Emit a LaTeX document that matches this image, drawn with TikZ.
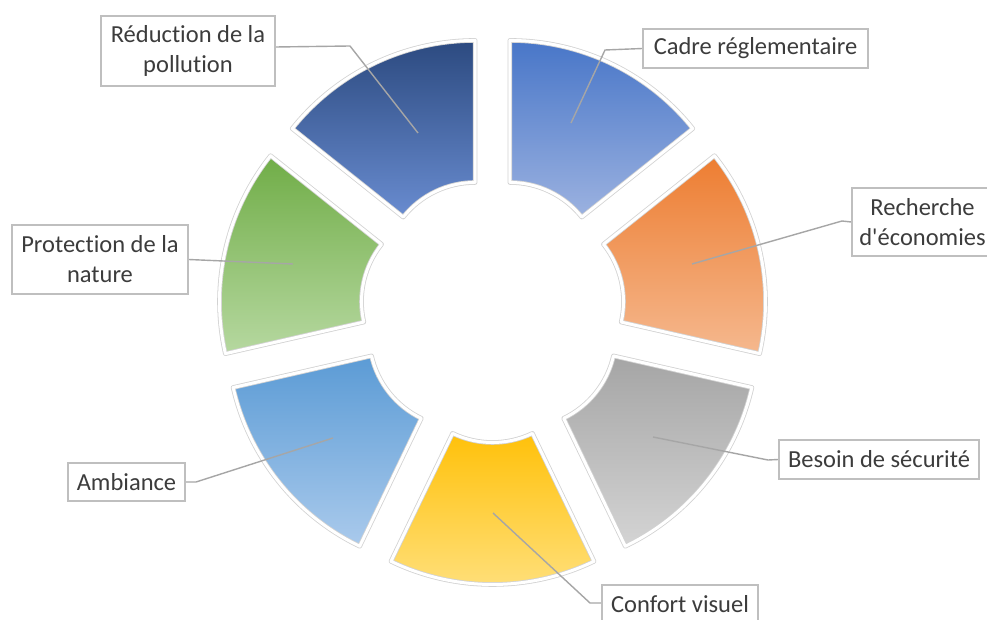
\documentclass[tikz,border=0pt]{standalone}
\usepackage{fontspec}
\setmainfont{Carlito}[Ligatures={TeXOff,NoCommon}]
\usetikzlibrary{calc}
\definecolor{cadT}{RGB}{72,118,200}\definecolor{cadB}{RGB}{156,178,224}
\definecolor{recT}{RGB}{237,125,49}\definecolor{recB}{RGB}{245,184,142}
\definecolor{besT}{RGB}{165,165,165}\definecolor{besB}{RGB}{212,212,212}
\definecolor{conT}{RGB}{255,193,10}\definecolor{conB}{RGB}{255,224,125}
\definecolor{ambT}{RGB}{91,155,213}\definecolor{ambB}{RGB}{170,202,236}
\definecolor{proT}{RGB}{112,173,71}\definecolor{proB}{RGB}{182,216,160}
\definecolor{redT}{RGB}{44,74,128}\definecolor{redB}{RGB}{105,140,208}
\definecolor{txt}{RGB}{60,60,60}
\definecolor{boxgray}{RGB}{191,191,191}
\definecolor{leadgray}{RGB}{166,166,166}
\definecolor{rimgray}{RGB}{210,210,210}
\newcommand\donutseg[3]{%
  \pgfmathsetmacro\aA{90-#1*360/7}%
  \pgfmathsetmacro\aB{\aA-360/7}%
  \pgfmathsetmacro\aM{\aA-180/7}%
  \coordinate (lc#1) at ($(C)+(\aM:40)$);
  \path[top color=#2,bottom color=#3,
        postaction={draw=rimgray,line width=4.6pt,line join=round},
        postaction={draw=white,line width=3pt,line join=round}]
    ($(lc#1)+(\aA:234)$) arc[start angle=\aA,end angle=\aB,radius=234]
    -- ($(lc#1)+(\aB:92)$) arc[start angle=\aB,end angle=\aA,radius=92] -- cycle;
}
\begin{document}
\begin{tikzpicture}[x=1pt,y=1pt,
  lbl/.style={draw=boxgray,line width=1.3pt,fill=white,text=txt,inner sep=0pt,
    align=center,font=\fontsize{24.5}{30}\selectfont},
  leader/.style={draw=leadgray,line width=1.4pt,line join=round}]
\useasboundingbox[fill=white] (0,0) rectangle (987,619);
\coordinate (C) at (492.5,308.5);
\donutseg{0}{cadT}{cadB}
\donutseg{1}{recT}{recB}
\donutseg{2}{besT}{besB}
\donutseg{3}{conT}{conB}
\donutseg{4}{ambT}{ambB}
\donutseg{5}{proT}{proB}
\donutseg{6}{redT}{redB}
% leader end points inside segments
\coordinate (pCad) at (571,496);
\coordinate (pRec) at (692,355);
\coordinate (pBes) at (653,182);
\coordinate (pCon) at (493,106);
\coordinate (pAmb) at (333,181);
\coordinate (pPro) at (293,355);
\coordinate (pRed) at (418,486);
% labels
\node[lbl,minimum width=174pt,minimum height=70pt] (lRed) at (188,568) {Réduction de la\\pollution};
\node[lbl,minimum width=225pt,minimum height=39pt] (lCad) at (755.5,570.5) {Cadre réglementaire};
\node[lbl,minimum width=141pt,minimum height=68pt] (lRec) at (922.5,397) {Recherche\\d'économies};
\node[lbl,minimum width=200pt,minimum height=39pt] (lBes) at (879,159.5) {Besoin de sécurité};
\node[lbl,minimum width=156pt,minimum height=39pt] (lCon) at (680,14.5) {Confort visuel};
\node[lbl,minimum width=117pt,minimum height=38pt] (lAmb) at (126.5,137) {Ambiance};
\node[lbl,minimum width=176pt,minimum height=69pt] (lPro) at (100,359.5) {Protection de la\\nature};
% leaders
\draw[leader] ([yshift=4pt]lRed.east) -- (350,573) -- (pRed);
\draw[leader] (lCad.west) -- (605,569) -- (pCad);
\draw[leader] (lRec.west) -- (842,398) -- (pRec);
\draw[leader] (lBes.west) -- (768,159) -- (pBes);
\draw[leader] ([yshift=1.5pt]lCon.west) -- (590,16) -- (pCon);
\draw[leader] (lAmb.east) -- (196,137) -- (pAmb);
\draw[leader] (lPro.east) -- (pPro);
% redraw labels above leaders
\node[lbl,minimum width=174pt,minimum height=70pt] at (lRed) {Réduction de la\\pollution};
\node[lbl,minimum width=225pt,minimum height=39pt] at (lCad) {Cadre réglementaire};
\node[lbl,minimum width=141pt,minimum height=68pt] at (lRec) {Recherche\\d'économies};
\node[lbl,minimum width=200pt,minimum height=39pt] at (lBes) {Besoin de sécurité};
\node[lbl,minimum width=156pt,minimum height=39pt] at (lCon) {Confort visuel};
\node[lbl,minimum width=117pt,minimum height=38pt] at (lAmb) {Ambiance};
\node[lbl,minimum width=176pt,minimum height=69pt] at (lPro) {Protection de la\\nature};
\end{tikzpicture}
\end{document}
